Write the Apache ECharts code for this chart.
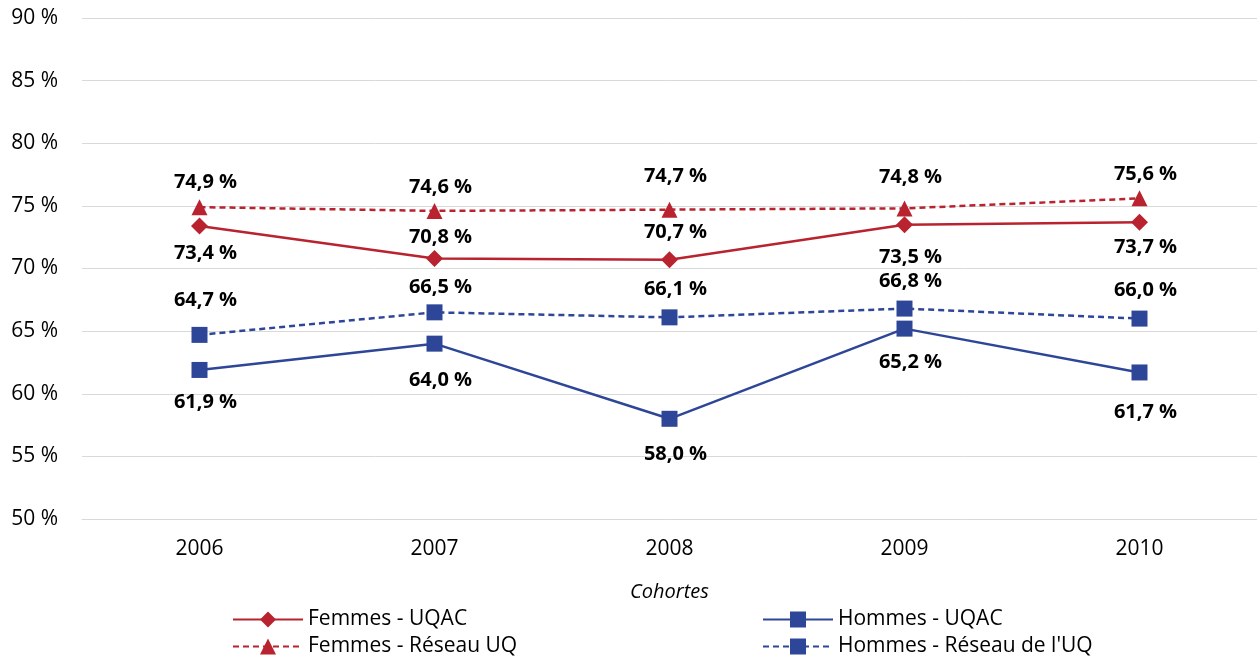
<!DOCTYPE html>
<html><head><meta charset="utf-8">
<script src="https://cdn.jsdelivr.net/npm/echarts@6/dist/echarts.min.js"></script>
<style>html,body{margin:0;padding:0;background:#fff}#c{width:1257px;height:659px}</style>
</head><body><div id="c"></div>
<script>
const categories = ['2006','2007','2008','2009','2010'];
const femmesUQAC = [73.4, 70.8, 70.7, 73.5, 73.7];
const femmesReseau = [74.9, 74.6, 74.7, 74.8, 75.6];
const hommesUQAC = [61.9, 64.0, 58.0, 65.2, 61.7];
const hommesReseau = [64.7, 66.5, 66.1, 66.8, 66.0];
const yTicks = [50, 55, 60, 65, 70, 75, 80, 85, 90];

// label placement (position / gap from marker), styling only
const femmesUQACLabelPos = ['bottom','top','top','bottom','bottom'];
const femmesUQACLabelGap = [9, 3, 9, 14, 7];
const femmesReseauLabelGap = [7, 6, 15, 13, 6];
const hommesUQACLabelGap = [14, 19, 17, 16, 22];
const hommesReseauLabelGap = [17, 7, 10, 9, 10];

const RED = '#B8232F', BLUE = '#2E4698';
const FONT = '"Open Sans", "Liberation Sans", sans-serif';
const fmt = v => v.toFixed(1).replace('.', ',') + ' %';

function lbl(pos, gap) {
  return { show: true, position: pos, distance: gap, offset: [6, 0], color: '#000', fontFamily: FONT,
           fontWeight: 'bold', fontSize: 20, formatter: p => fmt(p.value) };
}
function mk(name, data, color, symbol, size, dashed, positions, gaps) {
  return {
    name, type: 'line', data: data.map((v, i) => ({ value: v, label: lbl(positions[i], gaps[i]) })),
    symbol, symbolSize: size,
    lineStyle: { color, width: 2.5, type: dashed ? [6, 4] : 'solid' },
    itemStyle: { color }, emphasis: { disabled: true },
    animation: false, z: 3
  };
}
function leg(name, left, top) {
  return { data: [name], left, top, orient: 'horizontal', padding: 0,
    itemWidth: 70, itemHeight: 20, itemGap: 4,
    textStyle: { fontFamily: FONT, fontSize: 21, color: '#000', padding: [0, 0, 0, 0] } };
}
const chart = echarts.init(document.getElementById('c'));
chart.setOption({
  backgroundColor: '#fff',
  animation: false,
  grid: { left: 82, right: -2, top: 18, bottom: 140 },
  xAxis: {
    type: 'category', data: categories, boundaryGap: true,
    name: 'Cohortes', nameLocation: 'middle', nameGap: 63,
    nameTextStyle: { fontFamily: FONT, fontStyle: 'italic', fontSize: 20, color: '#000' },
    axisLine: { lineStyle: { color: '#d9d9d9' } }, axisTick: { show: false },
    axisLabel: { fontFamily: FONT, fontSize: 21, color: '#000', margin: 20 }
  },
  yAxis: {
    type: 'value', min: yTicks[0], max: yTicks[yTicks.length - 1], interval: 5,
    axisLine: { show: false }, axisTick: { show: false },
    splitLine: { lineStyle: { color: '#d9d9d9', width: 1 } },
    axisLabel: { fontFamily: FONT, fontSize: 21, color: '#000', margin: 24, align: 'right',
                 formatter: v => v + ' %' }
  },
  legend: [
    leg('Femmes - UQAC', 232, 609),
    leg('Femmes - Réseau UQ', 232, 636),
    leg('Hommes - UQAC', 762, 609),
    leg("Hommes - Réseau de l'UQ", 762, 636)
  ],
  series: [
    mk('Femmes - UQAC', femmesUQAC, RED, 'diamond', 17, false, femmesUQACLabelPos, femmesUQACLabelGap),
    mk('Hommes - UQAC', hommesUQAC, BLUE, 'rect', 16, false, hommesUQAC.map(() => 'bottom'), hommesUQACLabelGap),
    mk('Femmes - Réseau UQ', femmesReseau, RED, 'triangle', 16, true, femmesReseau.map(() => 'top'), femmesReseauLabelGap),
    mk("Hommes - Réseau de l'UQ", hommesReseau, BLUE, 'rect', 16, true, hommesReseau.map(() => 'top'), hommesReseauLabelGap)
  ]
});
</script></body></html>
